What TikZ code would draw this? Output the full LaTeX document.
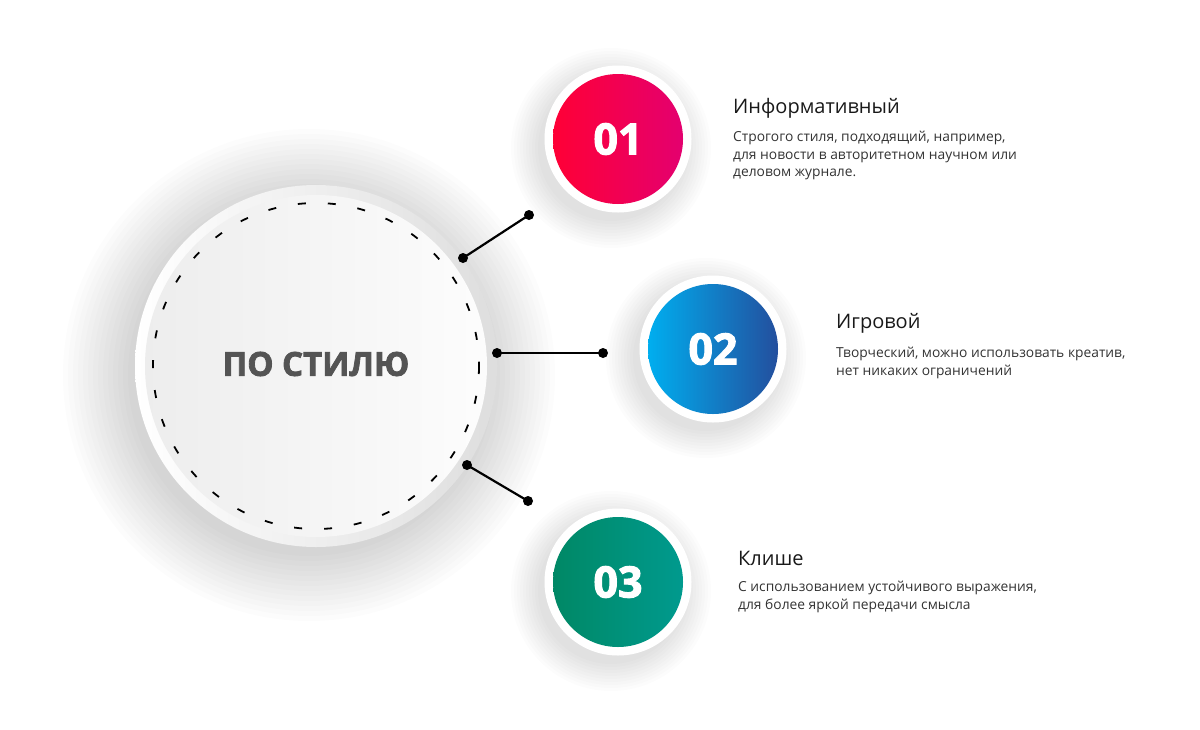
\documentclass[tikz,border=0pt]{standalone}
\usepackage{fontspec}
\setmainfont{Open Sans}
\newfontfamily\numfont{Open Sans}[BoldFeatures={FakeBold=2.5}]
\usetikzlibrary{positioning,calc}

\definecolor{redA}{HTML}{FF0036}
\definecolor{redB}{HTML}{E4006F}
\definecolor{blueA}{HTML}{00AEEF}
\definecolor{blueB}{HTML}{234F9E}
\definecolor{greenA}{HTML}{008865}
\definecolor{greenB}{HTML}{009A8E}

\begin{document}
\begin{tikzpicture}[
  x=1pt, y=-1pt,
  ring/.style={circle, fill=white, minimum size=147pt, inner sep=0pt},
  num/.style={circle, minimum size=130pt, inner sep=0pt, text=white,
              font=\numfont\bfseries\fontsize{43}{43}\selectfont},
  dot/.style={circle, fill=black, minimum size=10pt, inner sep=0pt},
  link/.style={line width=2.2pt},
  ttl/.style={anchor=base west, inner sep=0pt, text=black!90,
              font=\fontsize{20}{24}\selectfont},
  desc/.style={inner sep=0pt, align=left, text=black!80,
               font=\fontsize{13.8}{17.5}\selectfont}
]
\useasboundingbox (0,0) rectangle (1200,729);
% soft shadows
\foreach \cx/\cy/\r/\st/\n in {316/366/181/5/13, 618/139/73/3/9, 713/349/73/3/9, 618/582/73/3/9}
  \foreach \k in {0,...,\n}
    \fill[black, opacity=0.011] (\cx-7,\cy+9) circle ({\r+\k*\st});
% centre
\node[circle, minimum size=362pt, inner sep=0pt, left color=white, right color=black!13] (rim) at (316,366) {};
\node[circle, minimum size=342pt, inner sep=0pt, left color=black!7, right color=black!1] (face) at (rim) {};
\draw[dash pattern=on 8pt off 22pt, line width=1.8pt] (face.center) circle (163);
\node[font=\numfont\bfseries\fontsize{33}{33}\selectfont, text=black!67] (main) at (316,364) {ПО СТИЛЮ};
% numbered circles
\node[ring] (r1) at (618,139) {};
\node[num, left color=redA, right color=redB] (n1) at (r1) {01};
\node[ring] (r2) at (713,349) {};
\node[num, left color=blueA, right color=blueB] (n2) at (r2) {02};
\node[ring] (r3) at (618,582) {};
\node[num, left color=greenA, right color=greenB] (n3) at (r3) {03};
% connectors
\node[dot] (a1) at (463,258) {};
\node[dot] (b1) at (529,215) {};
\node[dot] (a2) at (497,353) {};
\node[dot] (b2) at (603,353) {};
\node[dot] (a3) at (467,465) {};
\node[dot] (b3) at (528,501) {};
\draw[link] (a1.center) -- (b1.center);
\draw[link] (a2.center) -- (b2.center);
\draw[link] (a3.center) -- (b3.center);
% texts
\node[ttl] (t1) at (733,113) {Информативный};
\node[desc, below=18pt of t1.base west, anchor=north west] (s1)
     {Строгого стиля, подходящий, например,\\для новости в авторитетном научном или\\деловом журнале.};
\node[ttl] (t2) at (836,328) {Игровой};
\node[desc, below=19pt of t2.base west, anchor=north west] (s2)
     {Творческий, можно использовать креатив,\\нет никаких ограничений};
\node[ttl] (t3) at (738,565) {Клише};
\node[desc, below=16pt of t3.base west, anchor=north west] (s3)
     {С использованием устойчивого выражения,\\для более яркой передачи смысла};
\end{tikzpicture}
\end{document}
